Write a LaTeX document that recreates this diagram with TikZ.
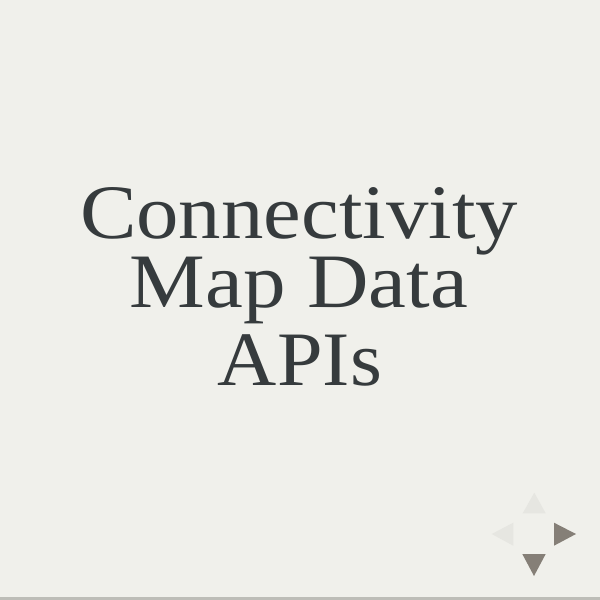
\documentclass[tikz,border=0pt]{standalone}
\usepackage{fontspec}
\setmainfont{Liberation Serif}
\definecolor{bg}{HTML}{F0F0EB}
\definecolor{ink}{HTML}{363B3D}
\definecolor{navon}{HTML}{857F77}
\definecolor{navoff}{HTML}{E6E6E1}
\definecolor{bar}{HTML}{BDBDB7}
\tikzset{
  titleline/.style={anchor=base, text=ink, inner sep=0pt, font=\fontsize{77}{69}\selectfont},
  navactive/.style={fill=navon, draw=none},
  navinactive/.style={fill=navoff, draw=none}
}
\begin{document}
\begin{tikzpicture}[x=1pt,y=-1pt]
\fill[bg] (0,0) rectangle (600,600);
\useasboundingbox (0,0) rectangle (600,600);
\node[titleline] (l1) at (299,238) {\resizebox{438pt}{\height}{Connectivity}};
\node[titleline] (l2) at (299,307) {\resizebox{338pt}{\height}{Map Data}};
\node[titleline] (l3) at (300,385) {\resizebox{164pt}{\height}{APIs}};
% navigation arrows
\fill[navinactive] (534.3,492.7) -- (545.7,513.3) -- (522.7,513.3) -- cycle;
\fill[navinactive] (491.7,534) -- (513.3,522.7) -- (513.3,545.7) -- cycle;
\fill[navactive] (554,522.7) -- (576,534) -- (554,545.7) -- cycle;
\fill[navactive] (522.3,554) -- (545.7,554) -- (534,576) -- cycle;
% bottom progress bar
\fill[bar] (0,596.7) rectangle (600,600);
\end{tikzpicture}
\end{document}
